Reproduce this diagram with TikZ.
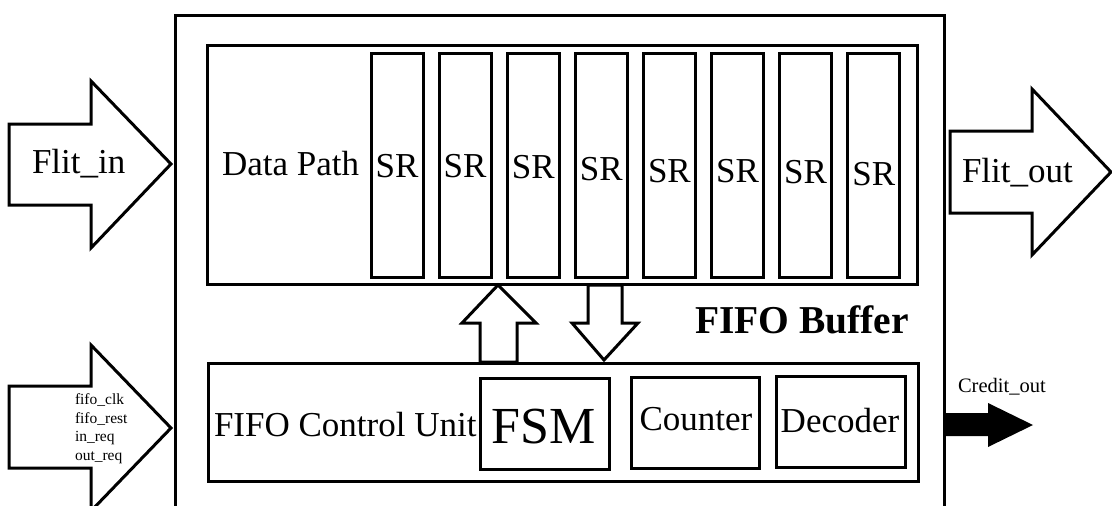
\documentclass[tikz,border=0pt]{standalone}
\usepackage{fontspec}
\setmainfont{Liberation Serif}
\begin{document}
\begin{tikzpicture}[x=1pt,y=-1pt,line width=3pt,line join=miter,
  box/.style={draw,line width=3pt,inner sep=0pt,outer sep=0pt,anchor=north west},
  txt/.style={inner sep=0pt,outer sep=0pt},
  big/.style={font={\fontsize{35}{37}\selectfont}},
  bigarrow/.style={draw,fill=white,line width=3pt},
  sigtxt/.style={txt,anchor=base west,font={\fontsize{15.5}{17}\selectfont}}]
\useasboundingbox (0,0) rectangle (1112,506);
\clip (0,0) rectangle (1112,506);

% FIFO buffer enclosure (runs past the lower edge)
\node[box,minimum width=769pt,minimum height=520pt] (fifo) at (175,15) {};
\node[txt,anchor=base west,font={\bfseries\fontsize{39.5}{41}\selectfont}] (fifolbl) at (695,333) {FIFO Buffer};

% data path with eight shift registers
\node[box,minimum width=710pt,minimum height=239pt] (dp) at (207,45) {};
\node[txt,big,anchor=base west] (dplbl) at (222,175) {Data Path};
\foreach \i/\b in {0/177,1/177,2/178,3/180,4/182,5/182,6/183,7/185} {
  \pgfmathsetmacro\xl{371+68.1*\i}
  \node[box,minimum width=52pt,minimum height=224pt] (sr\i) at (\xl,53) {};
  \node[txt,big,anchor=base] (srlbl\i) at (\xl+26,\b) {SR};
}

% control unit
\node[box,minimum width=710pt,minimum height=118pt] (cu) at (208,363) {};
\node[txt,big,anchor=base west] (culbl) at (214,436) {FIFO Control Unit};
\node[box,minimum width=129pt,minimum height=91pt] (fsm) at (480,378) {};
\node[txt,anchor=base,font={\fontsize{52}{54}\selectfont}] (fsmlbl) at (544,443) {FSM};
\node[box,minimum width=128pt,minimum height=91pt] (cnt) at (631,377) {};
\node[txt,big,anchor=base] (cntlbl) at (696,430) {Counter};
\node[box,minimum width=129pt,minimum height=91pt] (dec) at (776,376) {};
\node[txt,big,anchor=base] (declbl) at (840,432) {Decoder};

% input flit arrow
\draw[bigarrow] (9,124) -- (91,124) -- (91,81) -- (171,164) -- (91,248) -- (91,205) -- (9,205) -- cycle;
\node[txt,big,anchor=base west] (flitin) at (32,173) {Flit\_in};

% output flit arrow
\draw[bigarrow] (950,131) -- (1032,131) -- (1032,89) -- (1111,172) -- (1032,255) -- (1032,213) -- (950,213) -- cycle;
\node[txt,big,anchor=base west] (flitout) at (962,182) {Flit\_out};

% control signal arrow
\draw[bigarrow] (9,386) -- (91,386) -- (91,345) -- (171,428) -- (91,511) -- (91,468) -- (9,468) -- cycle;
\node[sigtxt] (s1) at (75,404) {fifo\_clk};
\node[sigtxt] (s2) at (75,423) {fifo\_rest};
\node[sigtxt] (s3) at (75,441) {in\_req};
\node[sigtxt] (s4) at (75,460) {out\_req};

% control unit <-> data path
\draw[bigarrow] (480,362) -- (480,323) -- (462,323) -- (498,285) -- (536,323) -- (517,323) -- (517,362) -- cycle;
\draw[bigarrow] (588,285) -- (622,285) -- (622,323) -- (638,323) -- (604,360) -- (572,323) -- (588,323) -- cycle;

% credit output
\fill (943,413) -- (988,413) -- (988,403) -- (1033,425) -- (988,447) -- (988,436) -- (943,436) -- cycle;
\node[txt,anchor=base west,font={\fontsize{20.5}{22}\selectfont}] (credit) at (958,392) {Credit\_out};
\end{tikzpicture}
\end{document}
